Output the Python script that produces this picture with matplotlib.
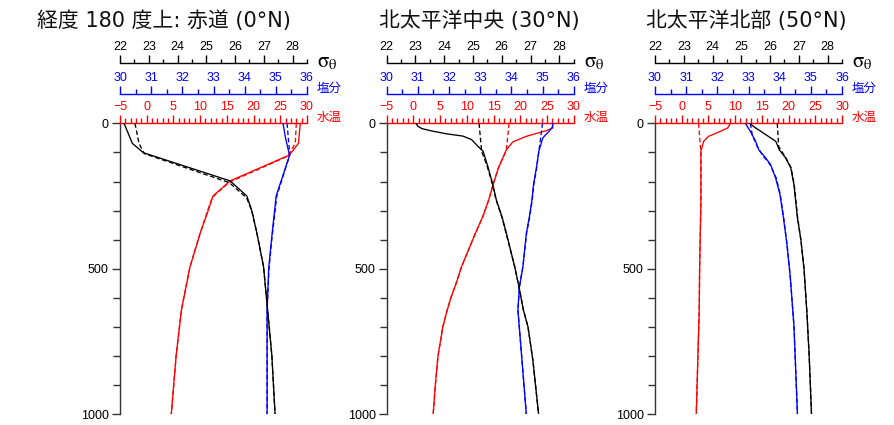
import matplotlib
matplotlib.use('Agg')
import matplotlib.pyplot as plt
from matplotlib.ticker import MultipleLocator

plt.rcParams['font.family'] = ['Noto Sans CJK JP', 'DejaVu Sans']
plt.rcParams['mathtext.fontset'] = 'stix'

# ---------------- data ----------------
titles = ['経度 180 度上: 赤道 (0°N)', '北太平洋中央 (30°N)', '北太平洋北部 (50°N)']
temp_label = '水温'
salt_label = '塩分'
sigma_label = r'$\mathrm{\sigma}_{\mathrm{\theta}}$'

temp_ticks = [-5, 0, 5, 10, 15, 20, 25, 30]
salt_ticks = [30, 31, 32, 33, 34, 35, 36]
sigma_ticks = [22, 23, 24, 25, 26, 27, 28]
depth_ticks = [0, 500, 1000]

# Panel 1: equator
eq_T_depth = [0, 69, 109, 198, 250, 300, 378, 493, 641, 800, 1000]
eq_T = [28.75, 28.4, 26.7, 15.6, 12.4, 11.5, 10.0, 8.1, 6.5, 5.5, 4.6]
eq_T_dash_depth = [0, 69, 113, 203, 254, 300, 378, 493, 641, 800, 1000]
eq_T_dash = [28.0, 27.8, 26.4, 15.4, 12.3, 11.4, 10.0, 8.1, 6.5, 5.5, 4.6]
eq_S_depth = [0, 50, 110, 250, 400, 500, 643, 1000]
eq_S = [35.23, 35.31, 35.44, 35.01, 34.86, 34.77, 34.72, 34.72]
eq_S_dash_depth = [0, 50, 108, 250, 400, 500, 643, 1000]
eq_S_dash = [35.36, 35.40, 35.45, 35.03, 34.87, 34.78, 34.72, 34.72]
eq_sig_depth = [0, 69, 101, 198, 250, 300, 378, 493, 641, 800, 1000]
eq_sig = [22.14, 22.43, 22.81, 25.83, 26.41, 26.58, 26.76, 26.99, 27.13, 27.28, 27.39]
eq_sig_dash_depth = [0, 69, 104, 204, 256, 300, 378, 493, 641, 800, 1000]
eq_sig_dash = [22.52, 22.66, 22.84, 25.80, 26.40, 26.58, 26.76, 26.99, 27.13, 27.28, 27.39]

# Panel 2: central North Pacific
mid_T_depth = [0, 16, 25, 45, 64, 91, 154, 211, 263, 320, 378, 493, 550, 600, 650, 700, 800, 900, 1000]
mid_T = [26.0, 26.1, 24.9, 21.1, 18.6, 17.4, 15.9, 14.9, 14.1, 13.0, 11.6, 9.0, 8.0, 7.0, 6.2, 5.5, 4.6, 4.1, 3.7]
mid_T_dash_depth = [0, 91, 154, 211, 263, 320, 378, 493, 550, 600, 650, 700, 800, 900, 1000]
mid_T_dash = [17.9, 17.4, 15.9, 14.9, 14.1, 13.0, 11.6, 9.0, 8.0, 7.0, 6.2, 5.5, 4.6, 4.1, 3.7]
mid_S_depth = [0, 12, 25, 50, 96, 155, 211, 263, 320, 378, 493, 561, 641, 800, 1000]
mid_S = [35.33, 35.32, 35.23, 35.01, 34.88, 34.80, 34.71, 34.66, 34.58, 34.48, 34.37, 34.26, 34.21, 34.33, 34.48]
mid_S_dash_depth = [0, 91, 155, 211, 263, 320, 378, 493, 561, 641, 800, 1000]
mid_S_dash = [35.0, 34.89, 34.81, 34.72, 34.67, 34.59, 34.49, 34.37, 34.26, 34.21, 34.33, 34.48]
mid_sig_depth = [0, 10, 18, 25, 36, 44, 56, 79, 96, 150, 211, 263, 325, 378, 493, 573, 641, 699, 813, 1000]
mid_sig = [23.02, 23.08, 23.22, 23.50, 24.07, 24.65, 24.95, 25.17, 25.35, 25.52, 25.69, 25.81,
           26.02, 26.16, 26.45, 26.62, 26.75, 26.91, 27.08, 27.28]
mid_sig_dash_depth = [0, 96, 150, 211, 263, 325, 378, 493, 573, 641, 699, 813, 1000]
mid_sig_dash = [25.21, 25.30, 25.50, 25.68, 25.80, 26.01, 26.15, 26.45, 26.62, 26.75, 26.91, 27.08, 27.28]

# Panel 3: northern North Pacific
no_T_depth = [0, 16, 28, 45, 62, 96, 263, 500, 641, 1000]
no_T = [9.1, 8.6, 7.2, 5.0, 4.1, 3.6, 3.6, 3.35, 3.28, 2.72]
no_T_dash_depth = [0, 80, 96, 263, 500, 641, 1000]
no_T_dash = [3.15, 3.5, 3.6, 3.6, 3.35, 3.28, 2.72]
no_S_depth = [0, 28, 62, 91, 119, 142, 188, 245, 325, 412, 527, 699, 1000]
no_S = [32.90, 33.06, 33.23, 33.33, 33.55, 33.71, 33.87, 34.01, 34.12, 34.23, 34.34, 34.46, 34.57]
no_S_dash_depth = [0, 40, 80, 110, 140, 188, 245, 325, 412, 527, 699, 1000]
no_S_dash = [33.06, 33.12, 33.28, 33.45, 33.68, 33.89, 34.02, 34.13, 34.23, 34.34, 34.46, 34.57]
no_sig_depth = [0, 16, 39, 62, 91, 119, 153, 211, 325, 400, 500, 650, 800, 1000]
no_sig = [25.28, 25.5, 25.85, 26.2, 26.32, 26.54, 26.72, 26.83, 26.95, 27.07, 27.18, 27.28, 27.36, 27.44]
no_sig_dash_depth = [0, 80, 119, 153, 211, 325, 400, 500, 650, 800, 1000]
no_sig_dash = [26.25, 26.30, 26.55, 26.73, 26.84, 26.96, 27.07, 27.18, 27.28, 27.36, 27.44]

panels = [
    dict(T=(eq_T_depth, eq_T), Td=(eq_T_dash_depth, eq_T_dash),
         S=(eq_S_depth, eq_S), Sd=(eq_S_dash_depth, eq_S_dash),
         G=(eq_sig_depth, eq_sig), Gd=(eq_sig_dash_depth, eq_sig_dash)),
    dict(T=(mid_T_depth, mid_T), Td=(mid_T_dash_depth, mid_T_dash),
         S=(mid_S_depth, mid_S), Sd=(mid_S_dash_depth, mid_S_dash),
         G=(mid_sig_depth, mid_sig), Gd=(mid_sig_dash_depth, mid_sig_dash)),
    dict(T=(no_T_depth, no_T), Td=(no_T_dash_depth, no_T_dash),
         S=(no_S_depth, no_S), Sd=(no_S_dash_depth, no_S_dash),
         G=(no_sig_depth, no_sig), Gd=(no_sig_dash_depth, no_sig_dash)),
]

# ---------------- layout ----------------
W, H = 894, 425
fig = plt.figure(figsize=(W / 100, H / 100), dpi=100)

left_px = [120, 386.7, 655]
width_px = 187
top_px = 123.3
bottom_px = 414.3
title_cx_px = [163.5, 479, 746]

RED = '#ff0000'
BLUE = '#0000ff'
BLACK = '#000000'
tick_fs = 9
lw = 0.95
dash = (0, (3.5, 2))


def style_top_axis(a, color, ticks, minor, offset, minor_len):
    for s in ['left', 'right', 'bottom']:
        a.spines[s].set_visible(False)
    if offset:
        a.spines['top'].set_position(('outward', offset))
    a.spines['top'].set_color(color)
    a.spines['top'].set_linewidth(1.0)
    a.xaxis.set_ticks_position('top')
    a.set_xticks(ticks)
    a.xaxis.set_minor_locator(MultipleLocator(minor))
    a.tick_params(axis='x', which='both', top=True, bottom=False, labeltop=True,
                  labelbottom=False, colors=color, direction='out', width=1.0,
                  labelsize=tick_fs, pad=1.5)
    a.tick_params(axis='x', which='major', length=6)
    a.tick_params(axis='x', which='minor', length=minor_len)
    for lab in a.get_xticklabels():
        lab.set_family('Liberation Sans')


for i, p in enumerate(panels):
    l = left_px[i] / W
    b = 1 - bottom_px / H
    w = width_px / W
    h = (bottom_px - top_px) / H
    ax = fig.add_axes([l, b, w, h])
    axS = ax.twiny()
    axG = ax.twiny()

    ax.set_xlim(-5, 30)
    axS.set_xlim(30, 36)
    axG.set_xlim(22, 28.5)

    style_top_axis(ax, RED, temp_ticks, 1, 0, 3.6)
    style_top_axis(axS, BLUE, salt_ticks, 0.5, 20.9, 3.6)
    style_top_axis(axG, BLACK, sigma_ticks, 0.5, 43.2, 3.0)

    ax.spines['left'].set_visible(True)
    ax.spines['left'].set_color('#333333')
    ax.spines['left'].set_linewidth(1.0)
    ax.set_yticks(depth_ticks)
    ax.yaxis.set_minor_locator(MultipleLocator(100))
    ax.tick_params(axis='y', which='both', left=True, right=False, direction='out',
                   colors='#333333', width=1.0, labelsize=tick_fs, pad=2)
    ax.tick_params(axis='y', which='major', length=6)
    ax.tick_params(axis='y', which='minor', length=5)
    for lab in ax.get_yticklabels():
        lab.set_family('Liberation Sans')
        lab.set_color(BLACK)

    # data
    ax.plot(p['Td'][1], p['Td'][0], color=RED, lw=lw, ls=dash)
    ax.plot(p['T'][1], p['T'][0], color=RED, lw=lw)
    axS.plot(p['Sd'][1], p['Sd'][0], color=BLUE, lw=lw, ls=dash)
    axS.plot(p['S'][1], p['S'][0], color=BLUE, lw=lw)
    axG.plot(p['Gd'][1], p['Gd'][0], color=BLACK, lw=lw, ls=dash)
    axG.plot(p['G'][1], p['G'][0], color=BLACK, lw=lw)
    ax.set_ylim(1000, 0)

    # right-hand labels
    xr = (left_px[i] + width_px + 10) / W
    fig.text(xr, 1 - 117 / H, temp_label, color=RED, fontsize=9, ha='left', va='center')
    fig.text(xr, 1 - 88 / H, salt_label, color=BLUE, fontsize=9, ha='left', va='center')
    fig.text(xr, 1 - 61 / H, sigma_label, color=BLACK, fontsize=15, ha='left', va='center')

    # title
    fig.text(title_cx_px[i] / W, 1 - 21 / H, titles[i], fontsize=15, ha='center',
             va='center', color='#111111', family=['DejaVu Sans', 'Noto Sans CJK JP'])

fig.savefig('out.png', dpi=100)
